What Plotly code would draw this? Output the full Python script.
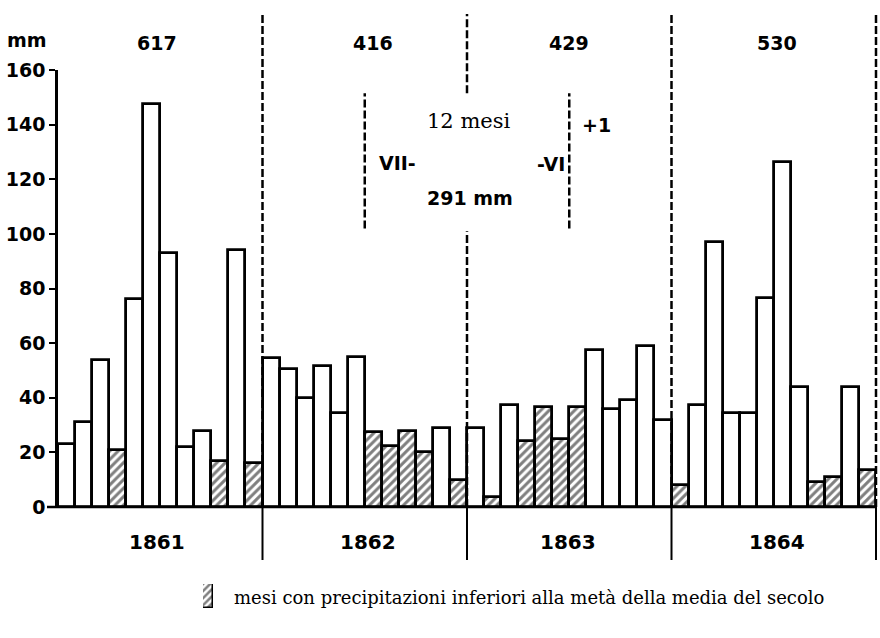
import plotly.graph_objects as go

# ---------------- data ----------------
years = ["1861", "1862", "1863", "1864"]
annual_totals = ["617", "416", "429", "530"]
rain_mm = [
    23, 31, 54, 21, 76, 147.5, 93, 22, 28, 17, 94, 16,      # 1861
    54.5, 50.5, 40, 51.5, 34.5, 55, 27.5, 22.5, 28, 20, 29, 10,  # 1862
    29, 3.7, 37.5, 24, 36.5, 25, 36.5, 57.5, 36, 39, 59, 32,     # 1863
    8, 37.5, 97, 34.5, 34.5, 76.5, 126.5, 44, 9, 11, 44, 13.5,   # 1864
]
below_half = [
    0, 0, 0, 1, 0, 0, 0, 0, 0, 1, 0, 1,
    0, 0, 0, 0, 0, 0, 1, 1, 1, 1, 0, 1,
    0, 1, 0, 1, 1, 1, 1, 0, 0, 0, 0, 0,
    1, 0, 0, 0, 0, 0, 0, 0, 1, 1, 0, 1,
]
y_ticks = [0, 20, 40, 60, 80, 100, 120, 140, 160]
unit_label = "mm"
window_label = "12 mesi"
window_total = "291 mm"
window_start = "VII-"
window_end = "-VI"
window_next = "+1"
legend_text = "mesi con precipitazioni inferiori alla metà della media del secolo"

# ---------------- geometry ----------------
W, H = 880, 638
L, R, T, B = 58, 4, 70, 0
PW, PH = W - L - R, H - T - B
Y_ZERO_PX = 507
Y0 = (H - Y_ZERO_PX) / PH           # bottom of main y domain (paper)
YMAX = 160
n = len(rain_mm)


def xp(d):            # data x -> paper
    return (d + 0.5) / n


def yp(v):            # data y -> paper
    return Y0 + v / YMAX * (1 - Y0)


def px_x(px):
    return (px - L) / PW


def px_y(py):
    return (H - py) / PH


x = list(range(n))
shapes_kw = ["/" if h else "" for h in below_half]

SANS = "DejaVu Sans"
SERIF = "DejaVu Serif"

fig = go.Figure()
fig.add_trace(go.Bar(
    x=x, y=rain_mm, width=1,
    marker=dict(color="white", line=dict(color="black", width=2.8),
                pattern=dict(shape=shapes_kw, fgcolor="black", bgcolor="white",
                             size=6, solidity=0.5, fillmode="overlay")),
    showlegend=False, hoverinfo="skip",
))
# legend swatch
fig.add_trace(go.Bar(
    x=[0], y=[1], width=1, xaxis="x2", yaxis="y2",
    marker=dict(color="white", line=dict(color="black", width=1.5),
                pattern=dict(shape="/", fgcolor="black", bgcolor="white",
                             size=5, solidity=0.5, fillmode="overlay")),
    showlegend=False, hoverinfo="skip",
))

shapes = []
dash = "8px,3px"
top_v = (Y_ZERO_PX - 14) / 2.731
below_v = -(560 - Y_ZERO_PX) / 2.731
for k in range(1, len(years) + 1):
    b = k * 12 - 0.5
    # solid separator under the axis
    shapes.append(dict(type="line", xref="paper", yref="paper",
                       x0=xp(b), x1=xp(b), y0=yp(0), y1=yp(below_v),
                       line=dict(color="black", width=2)))
    if k == 2:
        segs = [(0, 101), (151.5, top_v)]
    else:
        segs = [(0, top_v)]
    for a, c in segs:
        shapes.append(dict(type="line", xref="paper", yref="paper",
                           x0=xp(b), x1=xp(b), y0=yp(a), y1=yp(c),
                           line=dict(color="black", width=2.5, dash=dash)))
# 12-month window markers (July 1862 - June 1863)
for b in (17.5, 29.5):
    shapes.append(dict(type="line", xref="paper", yref="paper",
                       x0=xp(b), x1=xp(b), y0=yp(102), y1=yp(151.5),
                       line=dict(color="black", width=2.5, dash=dash)))
# extended x axis baseline
shapes.append(dict(type="line", xref="paper", yref="paper",
                   x0=px_x(47), x1=px_x(877), y0=yp(0), y1=yp(0),
                   line=dict(color="black", width=2.5)))

ann = []


def add_text(text, xd, yv, size=19, family=SANS, bold=True, xanchor="center"):
    ann.append(dict(text=("<b>%s</b>" % text) if bold else text,
                    x=xp(xd), y=yp(yv), xref="paper", yref="paper",
                    showarrow=False, xanchor=xanchor, yanchor="middle",
                    font=dict(family=family, size=size, color="black")))


add_text(unit_label, -2.3, 171)
top_x = [5.3, 17.96, 29.5, 41.7]
year_x = [5.3, 17.7, 29.4, 41.7]
for i in range(len(years)):
    add_text(annual_totals[i], top_x[i], 170)
    add_text(years[i], year_x[i], -12.8, size=20)
add_text(window_label, 23.6, 141.5, size=21, family=SERIF, bold=False)
add_text(window_total, 23.68, 113)
add_text(window_start, 18.2, 126, xanchor="left")
add_text(window_end, 29.37, 125.5, xanchor="right")
add_text(window_next, 30.13, 140, xanchor="left")
ann.append(dict(text=legend_text, x=px_x(232), y=px_y(597), xref="paper", yref="paper",
                showarrow=False, xanchor="left", yanchor="middle",
                font=dict(family=SERIF, size=18, color="black")))

fig.update_layout(
    width=W, height=H,
    margin=dict(l=L, r=R, t=T, b=B, pad=0, autoexpand=False),
    paper_bgcolor="white", plot_bgcolor="white",
    bargap=0,
    shapes=shapes, annotations=ann,
    xaxis=dict(range=[-0.5, n - 0.5], domain=[0, 1], showgrid=False, zeroline=False,
               showline=False, showticklabels=False, ticks="", fixedrange=True,
               automargin=False),
    yaxis=dict(range=[0, YMAX], domain=[Y0, 1], showgrid=False, zeroline=False,
               showline=True, linecolor="black", linewidth=2.5,
               ticks="outside", ticklen=6, tickwidth=2, tickcolor="black",
               tickvals=y_ticks, ticktext=[str(v) for v in y_ticks],
               tickfont=dict(family=SANS, size=19, color="black", weight="bold"),
               fixedrange=True, automargin=False),
    xaxis2=dict(domain=[px_x(203), px_x(213)], range=[-0.5, 0.5], anchor="y2",
                visible=False, fixedrange=True, automargin=False),
    yaxis2=dict(domain=[px_y(608), px_y(584)], range=[0, 1], anchor="x2",
                visible=False, fixedrange=True, automargin=False),
)

fig.write_html("out.html", config={"displayModeBar": False},
               post_script="document.body.style.margin='0';")
